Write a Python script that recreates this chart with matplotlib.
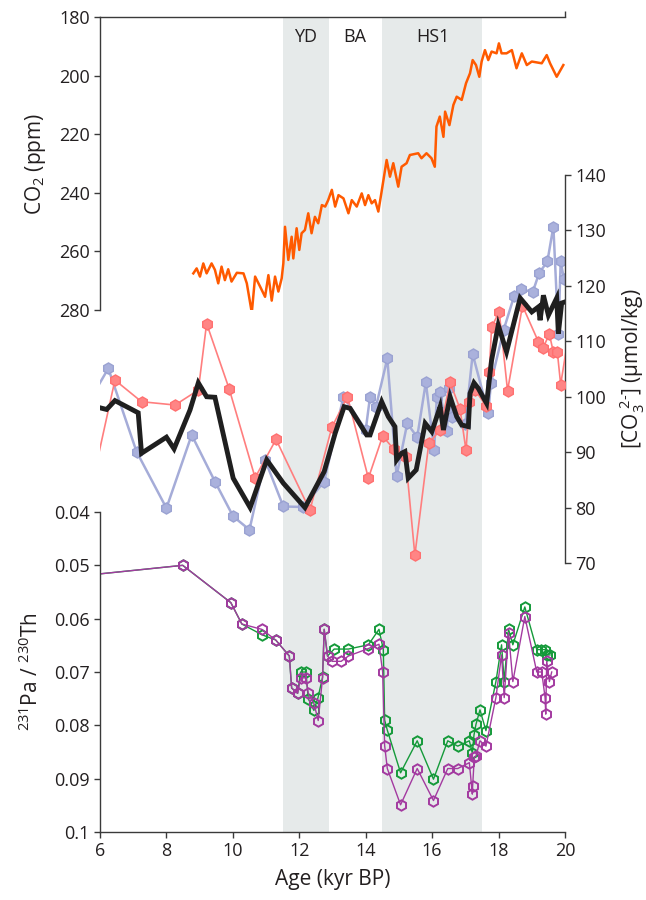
import numpy as np
import matplotlib
matplotlib.use("Agg")
import matplotlib.pyplot as plt

plt.rcParams['font.family'] = ['Open Sans', 'DejaVu Sans']
plt.rcParams['mathtext.fontset'] = 'custom'
plt.rcParams['mathtext.rm'] = 'Open Sans'
plt.rcParams['mathtext.it'] = 'Open Sans'

# ---- data ----
# atmospheric CO2 (ppm)
co2_age = [8.81, 8.91, 9.01, 9.11, 9.21, 9.36, 9.46, 9.56, 9.66, 9.76, 9.86, 9.96,
           10.12, 10.32, 10.42, 10.57, 10.67, 10.82, 10.97, 11.07, 11.17, 11.27, 11.37,
           11.47, 11.52, 11.57, 11.67, 11.77, 11.82, 11.92, 12.0, 12.07, 12.17, 12.27,
           12.37, 12.47, 12.57, 12.68, 12.78, 12.87, 12.98, 13.08, 13.18, 13.33, 13.48,
           13.58, 13.73, 13.88, 13.98, 14.08, 14.18, 14.28, 14.38, 14.47, 14.55, 14.63,
           14.73, 14.83, 14.98, 15.08, 15.23, 15.33, 15.58, 15.68, 15.83, 15.98, 16.08,
           16.13, 16.23, 16.34, 16.39, 16.52, 16.64, 16.74, 16.89, 17.02, 17.14, 17.22,
           17.32, 17.42, 17.49, 17.59, 17.69, 17.79, 17.94, 18.01, 18.09, 18.24, 18.40,
           18.54, 18.70, 18.85, 19.0, 19.30, 19.45, 19.55, 19.75, 19.95]
co2_ppm = [267.5, 265.8, 268.6, 264.1, 267.5, 264.1, 266.3, 270.9, 265.2, 269.8, 266.1, 270.3,
           267.3, 267.5, 270.9, 280.9, 268.6, 272.0, 275.5, 268.1, 276.8, 268.6, 273.7,
           269.2, 264.1, 251.6, 262.9, 255.0, 262.4, 252.1, 259.5, 253.8, 252.7, 247.0,
           253.8, 248.2, 250.4, 244.2, 244.7, 242.5, 239.0, 244.7, 240.8, 241.9, 247.0,
           242.5, 244.7, 240.2, 244.2, 240.8, 243.6, 242.5, 246.4, 240.2, 234.5, 228.8,
           234.5, 229.9, 237.9, 231.1, 229.9, 227.1, 226.5, 228.2, 226.5, 228.2, 231.1,
           217.4, 214.0, 220.9, 212.3, 216.9, 210.0, 207.2, 208.3, 202.6, 199.2, 194.7,
           196.4, 200.4, 195.2, 191.3, 194.7, 191.8, 192.4, 189.0, 192.4, 192.4, 191.3,
           197.5, 192.4, 196.4, 195.2, 195.8, 193.0, 195.8, 200.4, 196.4]

# deep-water carbonate ion, two cores and the stack
blue_age = [5.9, 6.25, 7.1, 8.0, 8.76, 9.46, 10.01, 10.5, 10.97, 11.52, 12.12, 12.75,
            13.33, 14.0, 14.13, 14.31, 14.65, 14.93, 15.25, 15.55, 15.81, 16.06, 16.14,
            16.24, 16.44, 16.52, 16.59, 17.0, 17.22, 17.69, 17.77, 18.15, 18.47, 18.67,
            19.03, 19.22, 19.47, 19.65, 19.8, 19.87, 19.97]
blue_co3 = [101.5, 105.1, 90.1, 79.9, 93.1, 84.7, 78.4, 76.0, 88.6, 80.2, 80.1, 84.7,
            100.0, 94.0, 100.0, 98.2, 106.9, 85.7, 95.2, 92.7, 102.6, 90.3, 100.0,
            100.8, 93.8, 101.5, 96.4, 95.1, 107.7, 97.0, 102.5, 112.0, 118.2, 119.4,
            118.9, 122.3, 124.4, 130.7, 111.4, 124.4, 121.2]

red_age = [5.9, 6.45, 7.25, 8.26, 8.96, 9.21, 9.89, 10.67, 11.3, 12.32, 12.98, 13.45,
           14.08, 14.51, 14.85, 15.2, 15.48, 15.9, 16.24, 16.54, 16.84, 17.02, 17.12,
           17.29, 17.62, 17.72, 17.79, 18.02, 18.27, 18.72, 19.2, 19.33, 19.53, 19.65,
           19.77, 19.87, 20.05]
red_co3 = [88.0, 103.0, 99.1, 98.5, 101.2, 113.2, 101.4, 85.4, 92.3, 79.5, 94.5, 100.0,
           85.3, 92.9, 90.5, 89.2, 71.4, 91.6, 94.0, 102.6, 97.8, 90.3, 99.0,
           101.2, 98.4, 104.5, 112.6, 115.3, 101.1, 116.4, 109.9, 108.7, 111.3, 108.0,
           108.0, 102.2, 109.0]

stack_age = [6.0, 6.2, 6.45, 7.15, 7.25, 8.0, 8.23, 8.71, 8.96, 9.21, 9.46, 10.01, 10.52,
             11.02, 11.52, 12.17, 12.75, 13.08, 13.35, 13.53, 14.03, 14.13, 14.48, 14.68,
             14.88, 14.93, 15.08, 15.18, 15.28, 15.52, 15.79, 15.99, 16.14, 16.24, 16.34,
             16.54, 16.74, 16.89, 17.09, 17.14, 17.26, 17.39, 17.64, 17.79, 17.99, 18.24,
             18.65, 19.0, 19.2, 19.25, 19.35, 19.5, 19.75, 19.8, 19.9, 20.0]
stack_co3 = [98.0, 97.7, 99.3, 97.1, 89.8, 92.7, 90.6, 97.6, 102.5, 100.0, 99.9, 85.3, 80.0,
             88.6, 84.4, 80.0, 86.5, 93.4, 98.2, 97.9, 93.1, 93.1, 99.1, 96.4,
             94.6, 88.6, 89.8, 90.1, 85.3, 86.8, 95.2, 93.7, 96.4, 98.2, 94.0,
             100.0, 96.4, 94.9, 94.6, 100.6, 102.5, 101.5, 98.8, 106.6, 112.9, 108.1,
             117.8, 115.3, 116.2, 113.8, 118.3, 114.7, 117.8, 111.4, 116.9, 117.1]

# 231Pa/230Th, two age models
green_age = [6.0, 8.49, 9.94, 10.27, 10.87, 11.29, 11.70, 11.77, 11.95, 12.04, 12.2, 12.27,
             12.44, 12.56, 12.7, 12.75, 12.85, 13.05, 13.48, 14.08, 14.40, 14.53, 14.57,
             14.65, 15.05, 15.55, 16.04, 16.47, 16.77, 17.12, 17.21, 17.26, 17.32, 17.44,
             17.62, 17.92, 18.09, 18.17, 18.30, 18.43, 18.79, 19.15, 19.28, 19.4, 19.45,
             19.55]
green_pa = [0.0516, 0.050, 0.057, 0.061, 0.063, 0.064, 0.067, 0.073, 0.074, 0.070, 0.070, 0.075,
            0.0772, 0.0749, 0.071, 0.062, 0.067, 0.0657, 0.0657, 0.0649, 0.062, 0.0658, 0.079,
            0.0809, 0.0889, 0.0829, 0.0901, 0.0829, 0.0839, 0.0829, 0.0852, 0.0818, 0.0798, 0.0771,
            0.081, 0.0718, 0.0649, 0.0718, 0.062, 0.0649, 0.0578, 0.0658, 0.0658, 0.0658, 0.0668,
            0.0668]
purple_age = [6.0, 8.49, 9.94, 10.27, 10.87, 11.29, 11.70, 11.77, 11.95, 12.04, 12.2, 12.27,
              12.44, 12.57, 12.7, 12.75, 12.85, 12.99, 13.26, 13.48, 14.08, 14.4, 14.51, 14.57,
              14.65, 15.05, 15.55, 16.04, 16.47, 16.77, 17.12, 17.21, 17.22, 17.27, 17.32,
              17.44, 17.62, 17.92, 18.09, 18.17, 18.30, 18.43, 18.79, 19.15, 19.3, 19.4,
              19.42, 19.45, 19.53, 19.6]
purple_pa = [0.0516, 0.050, 0.057, 0.061, 0.062, 0.064, 0.067, 0.073, 0.074, 0.0711, 0.0711, 0.074,
             0.0759, 0.0791, 0.0711, 0.062, 0.067, 0.068, 0.068, 0.067, 0.0656, 0.0648, 0.070, 0.0838,
             0.0881, 0.0949, 0.0881, 0.0941, 0.0881, 0.0881, 0.087, 0.0929, 0.0913, 0.0859, 0.0858,
             0.0829, 0.0839, 0.0748, 0.0668, 0.0748, 0.0626, 0.0718, 0.0596, 0.070, 0.070, 0.0748,
             0.0779, 0.068, 0.0718, 0.070]

# climate intervals
periods = [("YD", 11.5, 12.9), ("HS1", 14.5, 17.5)]
period_labels = [("YD", 12.2), ("BA", 13.68), ("HS1", 16.03)]

age_ticks = [6, 8, 10, 12, 14, 16, 18, 20]
co2_ticks = [180, 200, 220, 240, 260, 280]
co3_ticks = [70, 80, 90, 100, 110, 120, 130, 140]
pa_ticks = [0.04, 0.05, 0.06, 0.07, 0.08, 0.09, 0.1]
pa_ticklabels = ["0.04", "0.05", "0.06", "0.07", "0.08", "0.09", "0.1"]

# ---- figure ----
txt = '#231f20'
spine_c = '#3a3a3a'
W, H = 646, 900
fig = plt.figure(figsize=(W / 100, H / 100), dpi=100)

def pos(x0, y0, x1, y1):
    return [x0 / W, 1 - y1 / H, (x1 - x0) / W, (y1 - y0) / H]

def inside(ages):
    # only put markers on samples that fall inside the plotted age range
    return [i for i, a in enumerate(ages) if 6.05 < a < 19.99]

ax_bg = fig.add_axes(pos(100, 17, 565, 832))
ax_top = fig.add_axes(pos(100, 17, 565, 310))
ax_bot = fig.add_axes(pos(100, 512, 565, 832))
ax_mid = fig.add_axes(pos(100, 175, 565, 563))

for ax in (ax_bg, ax_top, ax_bot, ax_mid):
    ax.set_xlim(6, 20)
    ax.patch.set_visible(False)
    for s in ax.spines.values():
        s.set_visible(False)
        s.set_color(spine_c)
        s.set_linewidth(1.0)
    ax.tick_params(colors=spine_c, labelcolor=txt, labelsize=13, direction='out',
                   length=4, width=1.0)

# shading
ax_bg.set_ylim(0, 1)
ax_bg.set_xticks([])
ax_bg.set_yticks([])
for name, a0, a1 in periods:
    ax_bg.axvspan(a0, a1, color='#e6eaea', lw=0)
for name, xa in period_labels:
    ax_bg.text(xa, 0.9755, name, ha='center', va='center', fontsize=13, color=txt)

# top: CO2
ax_top.plot(co2_age, co2_ppm, color='#ff5a00', lw=1.8)
ax_top.set_ylim(280, 180)
ax_top.set_yticks(co2_ticks)
ax_top.spines['left'].set_visible(True)
ax_top.spines['top'].set_visible(True)
ax_top.xaxis.set_ticks_position('top')
ax_top.set_xticks([20])
ax_top.set_xticklabels([])
ax_top.set_ylabel('CO$_2$ (ppm)', fontsize=15, color=txt, labelpad=8)

# middle: carbonate ion
ax_mid.plot(blue_age, blue_co3, color='#a5acd8', lw=1.8, marker='h', ms=8,
            mfc='#aab1dc', mec='#9aa2d2', mew=1, markevery=inside(blue_age), zorder=2)
ax_mid.plot(red_age, red_co3, color='#ff7e7e', lw=1.2, marker='h', ms=8,
            mfc='#ff8585', mec='#ff7070', mew=1, markevery=inside(red_age), zorder=3)
ax_mid.plot(stack_age, stack_co3, color='#1f1f1f', lw=3.5, zorder=4,
            solid_joinstyle='miter')
ax_mid.set_ylim(70, 140)
ax_mid.set_yticks(co3_ticks)
ax_mid.spines['right'].set_visible(True)
ax_mid.yaxis.set_ticks_position('right')
ax_mid.yaxis.set_label_position('right')
ax_mid.set_xticks([])
ax_mid.set_ylabel('[CO$_3^{\\ 2\\text{-}}$] (µmol/kg)', fontsize=15, color=txt,
                  rotation=90, labelpad=8)

# bottom: Pa/Th
ax_bot.plot(green_age, green_pa, color='#159a3a', lw=1.0, marker='h', ms=7.5,
            mfc='none', mec='#159a3a', mew=1.4, markevery=inside(green_age))
ax_bot.plot(purple_age, purple_pa, color='#a33aa0', lw=1.0, marker='h', ms=7.5,
            mfc='none', mec='#a33aa0', mew=1.4, markevery=inside(purple_age))
ax_bot.set_ylim(0.1, 0.04)
ax_bot.set_yticks(pa_ticks)
ax_bot.set_yticklabels(pa_ticklabels)
ax_bot.set_xticks(age_ticks)
ax_bot.spines['left'].set_visible(True)
ax_bot.spines['bottom'].set_visible(True)
ax_bot.set_xlabel('Age (kyr BP)', fontsize=15, color=txt, labelpad=6)
ax_bot.set_ylabel('$^{231}$Pa / $^{230}$Th', fontsize=15, color=txt, labelpad=8)

fig.savefig('out.png', dpi=100)
